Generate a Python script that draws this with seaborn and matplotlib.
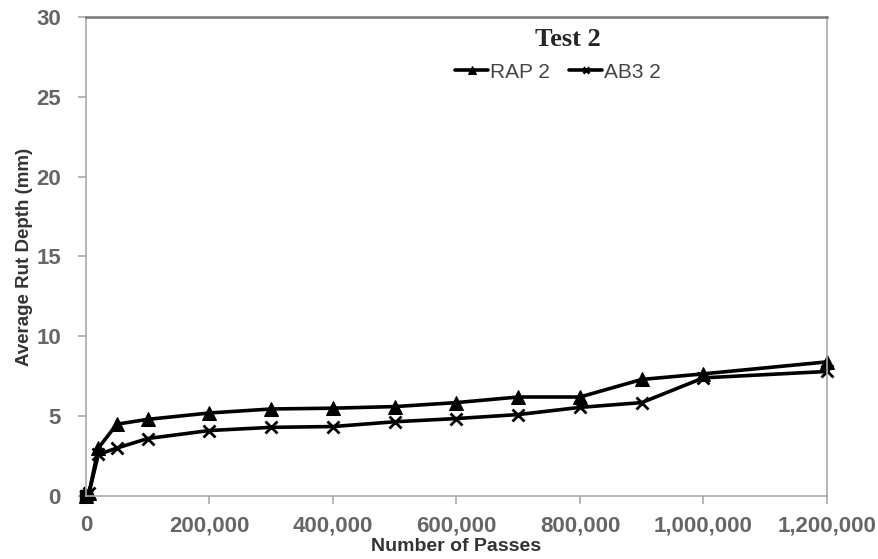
import matplotlib
matplotlib.use("Agg")
import matplotlib.pyplot as plt
import seaborn as sns
import pandas as pd
from matplotlib.ticker import FuncFormatter

passes = [0, 5000, 20000, 50000, 100000, 200000, 300000, 400000, 500000,
          600000, 700000, 800000, 900000, 1000000, 1200000]
rap2 = [0.0, 0.2, 3.0, 4.5, 4.8, 5.2, 5.45, 5.5, 5.6, 5.85, 6.2, 6.2, 7.3, 7.65, 8.4]
ab3_2 = [0.0, 0.2, 2.6, 3.0, 3.6, 4.1, 4.3, 4.35, 4.65, 4.85, 5.1, 5.55, 5.85, 7.4, 7.8]
series_names = ["RAP 2", "AB3 2"]
y_ticks = [0, 5, 10, 15, 20, 25, 30]
x_ticks = [0, 200000, 400000, 600000, 800000, 1000000, 1200000]

sns.set_theme(style="white")
plt.rcParams['font.family'] = ['Liberation Sans', 'DejaVu Sans']

fig = plt.figure(figsize=(8.79, 5.59), dpi=100)
ax = fig.add_axes([0.0978, 0.1127, 0.8430, 0.8569])

df_rap = pd.DataFrame({"x": passes, "y": rap2})
df_ab3 = pd.DataFrame({"x": passes, "y": ab3_2})
sns.lineplot(data=df_rap, x="x", y="y", ax=ax, color="black", linewidth=2.6,
             marker="^", markersize=10, markeredgecolor="black", label=series_names[0],
             clip_on=False)
sns.lineplot(data=df_ab3, x="x", y="y", ax=ax, color="black", linewidth=2.6,
             marker="x", markersize=8, markeredgewidth=2, markeredgecolor="black",
             label=series_names[1], clip_on=False)
# square-looking marker at the origin
ax.plot([passes[0]], [rap2[0]], marker="s", markersize=9, color="black", clip_on=False)

ax.set_xlim(0, 1200000)
ax.set_ylim(0, 30)
ax.set_xticks(x_ticks)
ax.set_yticks(y_ticks)
ax.xaxis.set_major_formatter(FuncFormatter(lambda v, p: f"{int(v):,}"))
ax.tick_params(axis="both", labelsize=16, colors="#aaaaaa", length=6, width=1.2,
               direction="out", bottom=True, left=True)
ax.tick_params(axis="y", pad=12)
ax.tick_params(axis="x", pad=8)
for lab in ax.get_xticklabels() + ax.get_yticklabels():
    lab.set_color("#666666")
    lab.set_fontweight("bold")

for s in ["left", "bottom", "right"]:
    ax.spines[s].set_color("#aaaaaa")
    ax.spines[s].set_linewidth(1.2)
ax.spines["top"].set_color("#777777")
ax.spines["top"].set_linewidth(1.8)

ax.set_xlabel("Number of Passes", fontsize=14, fontweight="bold", color="#333333", labelpad=1)
ax.set_ylabel("Average Rut Depth (mm)", fontsize=13.5, fontweight="bold", color="#333333", labelpad=2)

ax.text(0.650, 0.954, "Test 2", transform=ax.transAxes, ha="center", va="center",
        fontsize=19, fontweight="bold", family=["Liberation Serif", "DejaVu Serif"])

leg = ax.legend(loc="center", bbox_to_anchor=(0.637, 0.885), ncol=2, frameon=False,
                fontsize=15, handlelength=1.6, handletextpad=0.1, columnspacing=0.9,
                markerscale=0.6)
for t in leg.get_texts():
    t.set_color("#444444")

fig.savefig("out.png", dpi=100)
